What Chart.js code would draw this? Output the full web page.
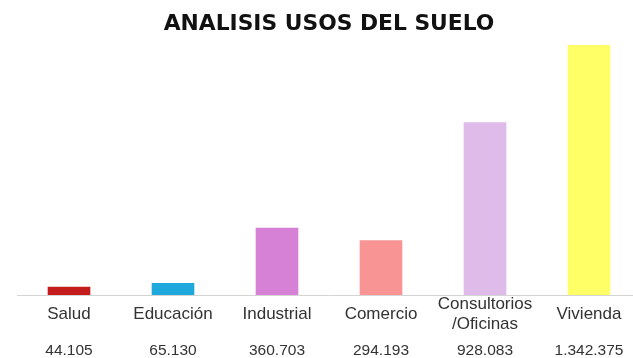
<!DOCTYPE html>
<html>
<head>
<meta charset="utf-8">
<script src="https://cdn.jsdelivr.net/npm/chart.js@4"></script>
<style>
    html, body { margin: 0; padding: 0; background: #fff; overflow: hidden; }
    #wrap { width: 645px; height: 358px; }
</style>
</head>
<body>
<div id="wrap"><canvas id="usosChart"></canvas></div>
<script>
// Usos del suelo (m2)
const categorias = ['Salud', 'Educación', 'Industrial', 'Comercio', ['Consultorios', '/Oficinas'], 'Vivienda'];
const superficies = [44105, 65130, 360703, 294193, 928083, 1342375];
const etiquetasValor = ['44.105', '65.130', '360.703', '294.193', '928.083', '1.342.375'];
const colores = ['#c41b1c', '#1fa8dc', '#d680d6', '#f99495', '#dfbbea', '#ffff66'];

const ctx = document.getElementById('usosChart').getContext('2d');

new Chart(ctx, {
    type: 'bar',
    data: {
        labels: categorias,
        datasets: [{
            data: superficies,
            backgroundColor: colores,
            borderWidth: 0,
            barPercentage: 0.41,
            categoryPercentage: 1
        }]
    },
    options: {
        responsive: true,
        maintainAspectRatio: false,
        animation: false,
        layout: {
            padding: { left: 17, right: 4, top: 0, bottom: 0 }
        },
        plugins: {
            legend: { display: false },
            tooltip: { enabled: false },
            title: {
                display: true,
                text: 'ANALISIS USOS DEL SUELO',
                color: '#111',
                font: { family: 'DejaVu Sans', size: 21.8, weight: 'bold' },
                padding: { top: 11, bottom: 0 }
            }
        },
        scales: {
            x: {
                position: 'bottom',
                grid: { display: false, drawTicks: false },
                border: { display: true, color: '#d4d4d4', width: 1 },
                ticks: {
                    color: '#333',
                    padding: 9,
                    crossAlign: 'center',
                    maxRotation: 0,
                    autoSkip: false,
                    font: { family: 'Liberation Sans', size: 17, lineHeight: 1.176 }
                },
                afterFit: (scale) => { scale.height = 46; }
            },
            valores: {
                type: 'category',
                position: 'bottom',
                labels: etiquetasValor,
                offset: true,
                grid: { display: false, drawTicks: false },
                border: { display: false },
                ticks: {
                    color: '#333',
                    padding: 0,
                    maxRotation: 0,
                    autoSkip: false,
                    font: { family: 'Liberation Sans', size: 15.5 }
                },
                afterFit: (scale) => { scale.height = 17; }
            },
            y: {
                display: false,
                min: 0,
                max: 1385000
            }
        }
    }
});
</script>
</body>
</html>
